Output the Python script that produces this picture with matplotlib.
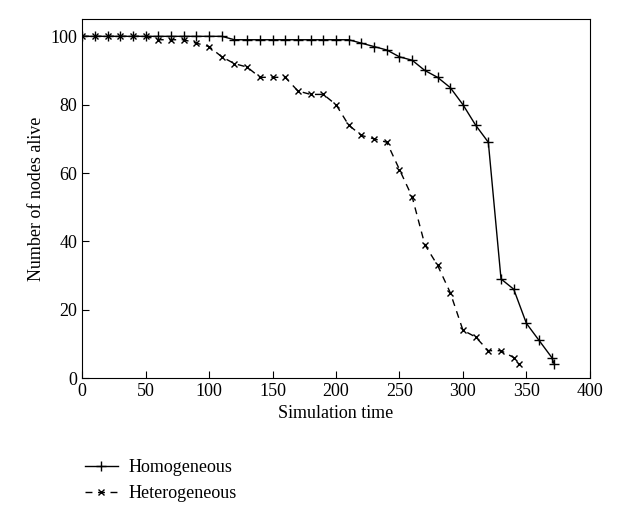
import matplotlib
matplotlib.use('Agg')
import matplotlib.pyplot as plt

plt.rcParams['font.family'] = ['Liberation Serif', 'DejaVu Serif']

# Homogeneous network
x_hom = [0, 10, 20, 30, 40, 50, 60, 70, 80, 90, 100, 110, 120, 130, 140, 150, 160, 170, 180, 190,
         200, 210, 220, 230, 240, 250, 260, 270, 280, 290, 300, 310, 320, 330, 340, 350, 360, 370, 372]
y_hom = [100, 100, 100, 100, 100, 100, 100, 100, 100, 100, 100, 100, 99, 99, 99, 99, 99, 99, 99, 99,
         99, 99, 98, 97, 96, 94, 93, 90, 88, 85, 80, 74, 69, 29, 26, 16, 11, 6, 4]

# Heterogeneous network
x_het = [0, 10, 20, 30, 40, 50, 60, 70, 80, 90, 100, 110, 120, 130, 140, 150, 160, 170, 180, 190,
         200, 210, 220, 230, 240, 250, 260, 270, 280, 290, 300, 310, 320, 330, 340, 344]
y_het = [100, 100, 100, 100, 100, 100, 99, 99, 99, 98, 97, 94, 92, 91, 88, 88, 88, 84, 83, 83,
         80, 74, 71, 70, 69, 61, 53, 39, 33, 25, 14, 12, 8, 8, 6, 4]

fig = plt.figure(figsize=(6.37, 5.2), dpi=100)
ax = fig.add_axes([0.129, 0.273, 0.797, 0.69])

ax.plot(x_hom, y_hom, 'k-', marker='+', markersize=6.5, markeredgewidth=1.0,
        linewidth=1.0, label='Homogeneous')
ax.plot(x_het, y_het, 'k--', marker='x', markersize=5, markeredgewidth=1.0,
        linewidth=1.0, dashes=(5, 4), label='Heterogeneous')

ax.set_xlim(0, 400)
ax.set_ylim(0, 105)
ax.set_xticks(range(0, 401, 50))
ax.set_yticks(range(0, 101, 20))
ax.tick_params(direction='in', length=5, labelsize=13, top=False, right=False)
ax.set_xlabel('Simulation time', fontsize=13)
ax.set_ylabel('Number of nodes alive', fontsize=13)

fig.legend(loc='upper left', bbox_to_anchor=(0.108, 0.148), frameon=False, fontsize=13,
           handlelength=1.8, handletextpad=0.6, labelspacing=0.5)

fig.savefig('out.png', dpi=100)
